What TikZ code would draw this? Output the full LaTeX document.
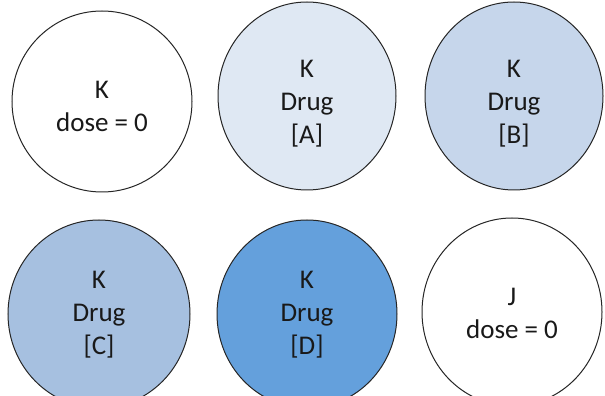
\documentclass[tikz,border=0pt]{standalone}
\usepackage{fontspec}
\setmainfont{Carlito}
\usetikzlibrary{shapes.geometric}
\definecolor{doseA}{HTML}{DFE8F3}
\definecolor{doseB}{HTML}{C6D6EB}
\definecolor{doseC}{HTML}{A6C0E0}
\definecolor{doseD}{HTML}{64A0DC}
\tikzset{
  well/.style={ellipse, draw=black!85, line width=1pt, inner sep=0pt,
    minimum width=178pt, minimum height=188pt},
  welltext/.style={align=center, font=\fontsize{27}{33}\selectfont, text=black!90}
}
\begin{document}
\begin{tikzpicture}[x=1pt,y=1pt]
\useasboundingbox (0,0) rectangle (605,396);
% top row
\node[well, fill=white, minimum width=180pt, minimum height=181pt] (w1) at (102,294.5) {};
\node[well, fill=doseA] (w2) at (307,300) {};
\node[well, fill=doseB] (w3) at (514,300) {};
% bottom row
\node[well, fill=doseC, minimum width=182pt] (w4) at (99,82) {};
\node[well, fill=doseD, minimum width=180pt] (w5) at (307,82) {};
\node[well, fill=white, minimum width=180pt] (w6) at (512,84) {};
% labels
\node[welltext] (t1) at ([yshift=-5pt]w1.center) {K\\dose = 0};
\node[welltext] (t2) at ([yshift=-8pt]w2.center) {K\\Drug\\{[A]}};
\node[welltext] (t3) at ([yshift=-8pt]w3.center) {K\\Drug\\{[B]}};
\node[welltext] (t4) at ([yshift=-1pt]w4.center) {K\\Drug\\{[C]}};
\node[welltext] (t5) at ([yshift=-1pt]w5.center) {K\\Drug\\{[D]}};
\node[welltext] (t6) at ([yshift=-1pt]w6.center) {J\\dose = 0};
\end{tikzpicture}
\end{document}
